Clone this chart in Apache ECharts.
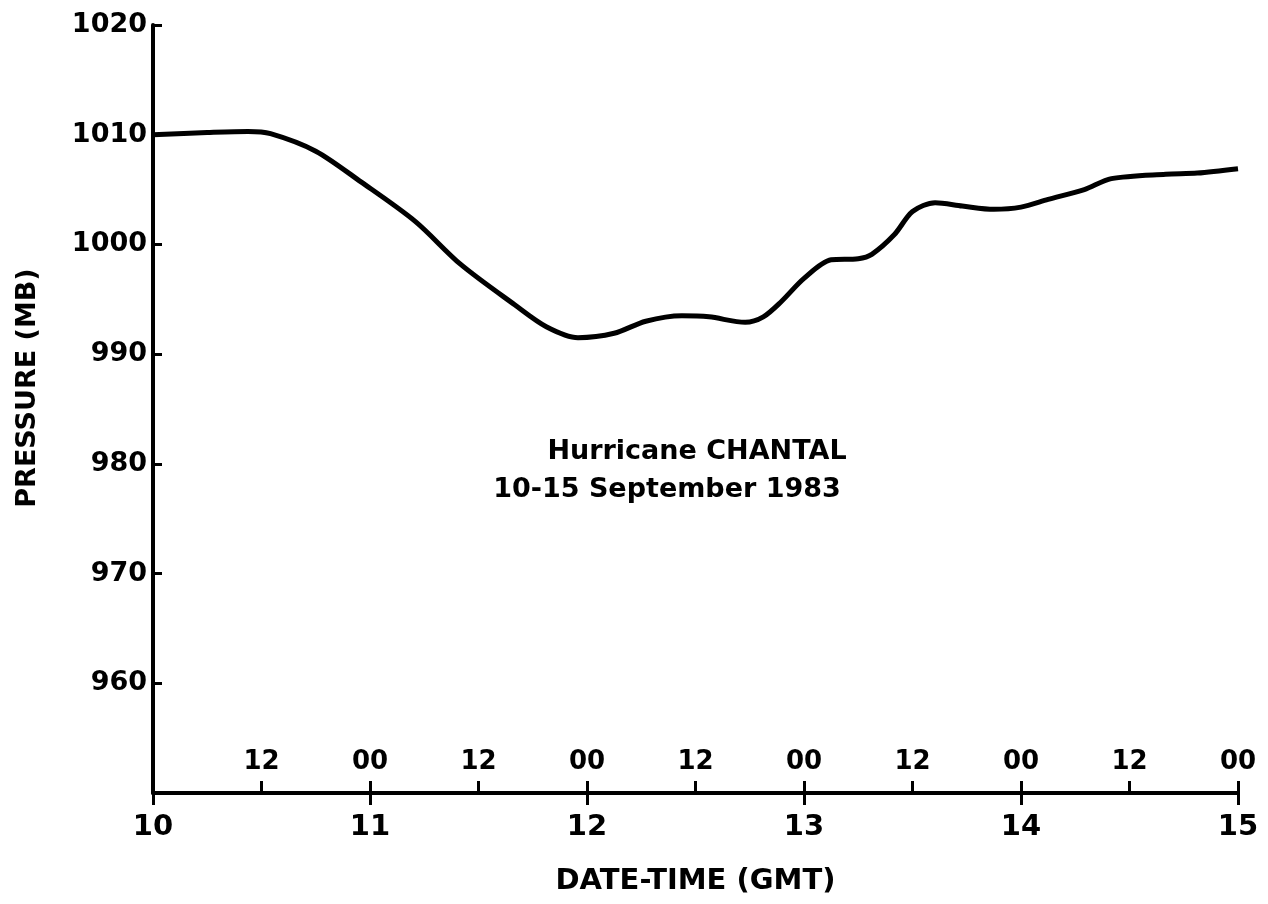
<!DOCTYPE html>
<html>
<head>
<meta charset="utf-8">
<script src="https://cdn.jsdelivr.net/npm/echarts@6/dist/echarts.min.js"></script>
<style>
html,body{margin:0;padding:0;background:#fff;}
#chart{width:1268px;height:904px;}
</style>
</head>
<body>
<div id="chart"></div>
<script>
// Hours since 10 September 00 GMT
const hours = [0, 6, 10.5, 13, 18, 23, 29, 34, 40, 43.5, 47, 51, 54.5, 58.5, 61.5, 65.5, 67.5, 69.5, 72, 75, 78, 79.5, 82, 84, 86.5, 89.5, 93, 96, 99, 103, 106, 112, 115.5, 120];
const pressure = [1010.0, 1010.2, 1010.3, 1010.1, 1008.5, 1005.7, 1002.1, 998.2, 994.5, 992.5, 991.5, 991.9, 993.0, 993.5, 993.4, 992.9, 993.4, 994.8, 996.9, 998.6, 998.7, 999.1, 1000.9, 1003.0, 1003.8, 1003.5, 1003.2, 1003.4, 1004.1, 1005.0, 1006.0, 1006.4, 1006.5, 1006.9];
const dayLabels = ['10', '11', '12', '13', '14', '15'];
const hourLabels = ['00', '12'];
const yTicks = [950, 960, 970, 980, 990, 1000, 1010, 1020];
const annotation = ['Hurricane CHANTAL', '10-15 September 1983'];
const yTitle = 'PRESSURE (MB)';
const xTitle = 'DATE-TIME (GMT)';

const FONT = 'DejaVu Sans';
const chart = echarts.init(document.getElementById('chart'));
chart.setOption({
  backgroundColor: '#fff',
  animation: false,
  grid: {left: 153, right: 30, top: 25, bottom: 111, containLabel: false},
  xAxis: [
    {
      type: 'value', min: 0, max: 120, interval: 24, position: 'bottom',
      name: xTitle, nameLocation: 'middle', nameGap: 74,
      nameTextStyle: {fontFamily: FONT, fontWeight: 'bold', fontSize: 29, color: '#000'},
      axisLine: {show: true, onZero: false, lineStyle: {color: '#000', width: 4}},
      axisTick: {show: true, inside: false, length: 12, lineStyle: {color: '#000', width: 3}},
      axisLabel: {show: true, margin: 20, fontFamily: FONT, fontWeight: 'bold', fontSize: 29, color: '#000',
        formatter: v => dayLabels[Math.round(v / 24)]},
      splitLine: {show: false}
    },
    {
      type: 'value', min: 0, max: 120, interval: 12, position: 'bottom', offset: 0,
      axisLine: {show: false},
      axisTick: {show: true, inside: true, length: 12, lineStyle: {color: '#000', width: 3}},
      axisLabel: {show: true, inside: true, margin: 18, showMinLabel: false, fontFamily: FONT, fontWeight: 'bold', fontSize: 26, color: '#000',
        formatter: v => hourLabels[Math.round(v / 12) % 2]},
      splitLine: {show: false}
    }
  ],
  yAxis: {
    type: 'value', min: yTicks[0], max: yTicks[yTicks.length - 1], interval: 10,
    axisLine: {show: true, onZero: false, lineStyle: {color: '#000', width: 4}},
    axisTick: {show: true, inside: true, length: 9, lineStyle: {color: '#000', width: 3}},
    axisLabel: {show: true, margin: 6, showMinLabel: false, fontFamily: FONT, fontWeight: 'bold', fontSize: 27, color: '#000',
      formatter: v => String(v)},
    splitLine: {show: false}
  },
  graphic: [
    {type: 'text', x: 697, y: 452, style: {text: annotation[0], fontFamily: FONT, fontWeight: 'bold', fontSize: 27, fill: '#000', align: 'center', verticalAlign: 'middle'}},
    {type: 'text', x: 667, y: 490, style: {text: annotation[1], fontFamily: FONT, fontWeight: 'bold', fontSize: 27, fill: '#000', align: 'center', verticalAlign: 'middle'}},
    {type: 'text', x: 28, y: 388, rotation: Math.PI / 2, style: {text: yTitle, fontFamily: FONT, fontWeight: 'bold', fontSize: 27, fill: '#000', align: 'center', verticalAlign: 'middle'}}
  ],
  series: [{
    type: 'line', xAxisIndex: 0, yAxisIndex: 0,
    data: hours.map((h, i) => [h, pressure[i]]),
    smooth: 0.3, showSymbol: false, symbol: 'none',
    lineStyle: {color: '#000', width: 5}
  }]
});
</script>
</body>
</html>
